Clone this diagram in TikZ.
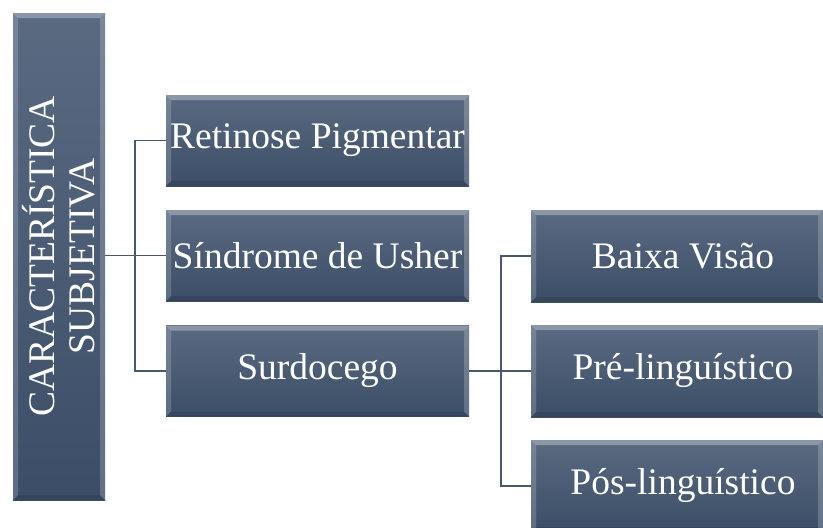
\documentclass[tikz,border=0pt]{standalone}
\usepackage{fontspec}
\setmainfont{Liberation Serif}
\definecolor{boxtop}{HTML}{5A6A81}
\definecolor{boxbot}{HTML}{3C4D67}
\definecolor{linec}{HTML}{4A586E}
\tikzset{
  boxnode/.style={draw=none, rectangle, inner sep=0pt, text=white,
    top color=boxtop, bottom color=boxbot,
    font=\fontsize{37.5}{40}\selectfont, align=center,
    path picture={
      \fill[white,opacity=0.30] (path picture bounding box.north west) -- (path picture bounding box.north east)
        -- ([xshift=-5pt,yshift=-5pt]path picture bounding box.north east) -- ([xshift=5pt,yshift=-5pt]path picture bounding box.north west) -- cycle;
      \fill[white,opacity=0.18] (path picture bounding box.north west) -- (path picture bounding box.south west)
        -- ([xshift=5pt,yshift=5pt]path picture bounding box.south west) -- ([xshift=5pt,yshift=-5pt]path picture bounding box.north west) -- cycle;
      \fill[black,opacity=0.10] (path picture bounding box.south west) -- (path picture bounding box.south east)
        -- ([xshift=-5pt,yshift=5pt]path picture bounding box.south east) -- ([xshift=5pt,yshift=5pt]path picture bounding box.south west) -- cycle;
      \fill[white,opacity=0.20] (path picture bounding box.north east) -- (path picture bounding box.south east)
        -- ([xshift=-5pt,yshift=5pt]path picture bounding box.south east) -- ([xshift=-5pt,yshift=-5pt]path picture bounding box.north east) -- cycle;
    }},
  conn/.style={draw=linec, line width=1.8pt}
}
\begin{document}
\begin{tikzpicture}[x=1pt,y=-1pt]
\useasboundingbox (0,0) rectangle (823,528);
\clip (0,0) rectangle (823,528);
\fill[white] (0,0) rectangle (823,528);
% root
\node[boxnode, minimum width=92pt, minimum height=487pt] (root) at (59,256.5) {};
\node[text=white, rotate=90, font=\fontsize{37.5}{40}\selectfont, align=center, inner sep=0pt] (roottext) at (root.center) {CARACTERÍSTICA\\SUBJETIVA};
% level 1
\node[boxnode, minimum width=303pt, minimum height=91pt] (ret) at (317.5,140.5) {Retinose Pigmentar};
\node[boxnode, minimum width=303pt, minimum height=91pt] (sin) at (317.5,255.5) {Síndrome de Usher};
\node[boxnode, minimum width=303pt, minimum height=91pt] (sur) at (317.5,371) {Surdocego};
% level 2
\node[boxnode, minimum width=292pt, minimum height=92pt] (bv) at (677,256) {\hspace*{12pt}Baixa Visão};
\node[boxnode, minimum width=292pt, minimum height=92pt] (pre) at (677,371) {\hspace*{12pt}Pré-linguístico};
\node[boxnode, minimum width=292pt, minimum height=92pt] (pos) at (677,486) {\hspace*{12pt}Pós-linguístico};
% connectors
\draw[conn] (root.east |- sin.west) -- (sin.west);
\draw[conn] (ret.west) -- ++(-31,0) |- (sur.west);
\draw[conn] (sur.east) -- (pre.west);
\draw[conn] (bv.west) -- ++(-30,0) |- (pos.west);
\end{tikzpicture}
\end{document}
